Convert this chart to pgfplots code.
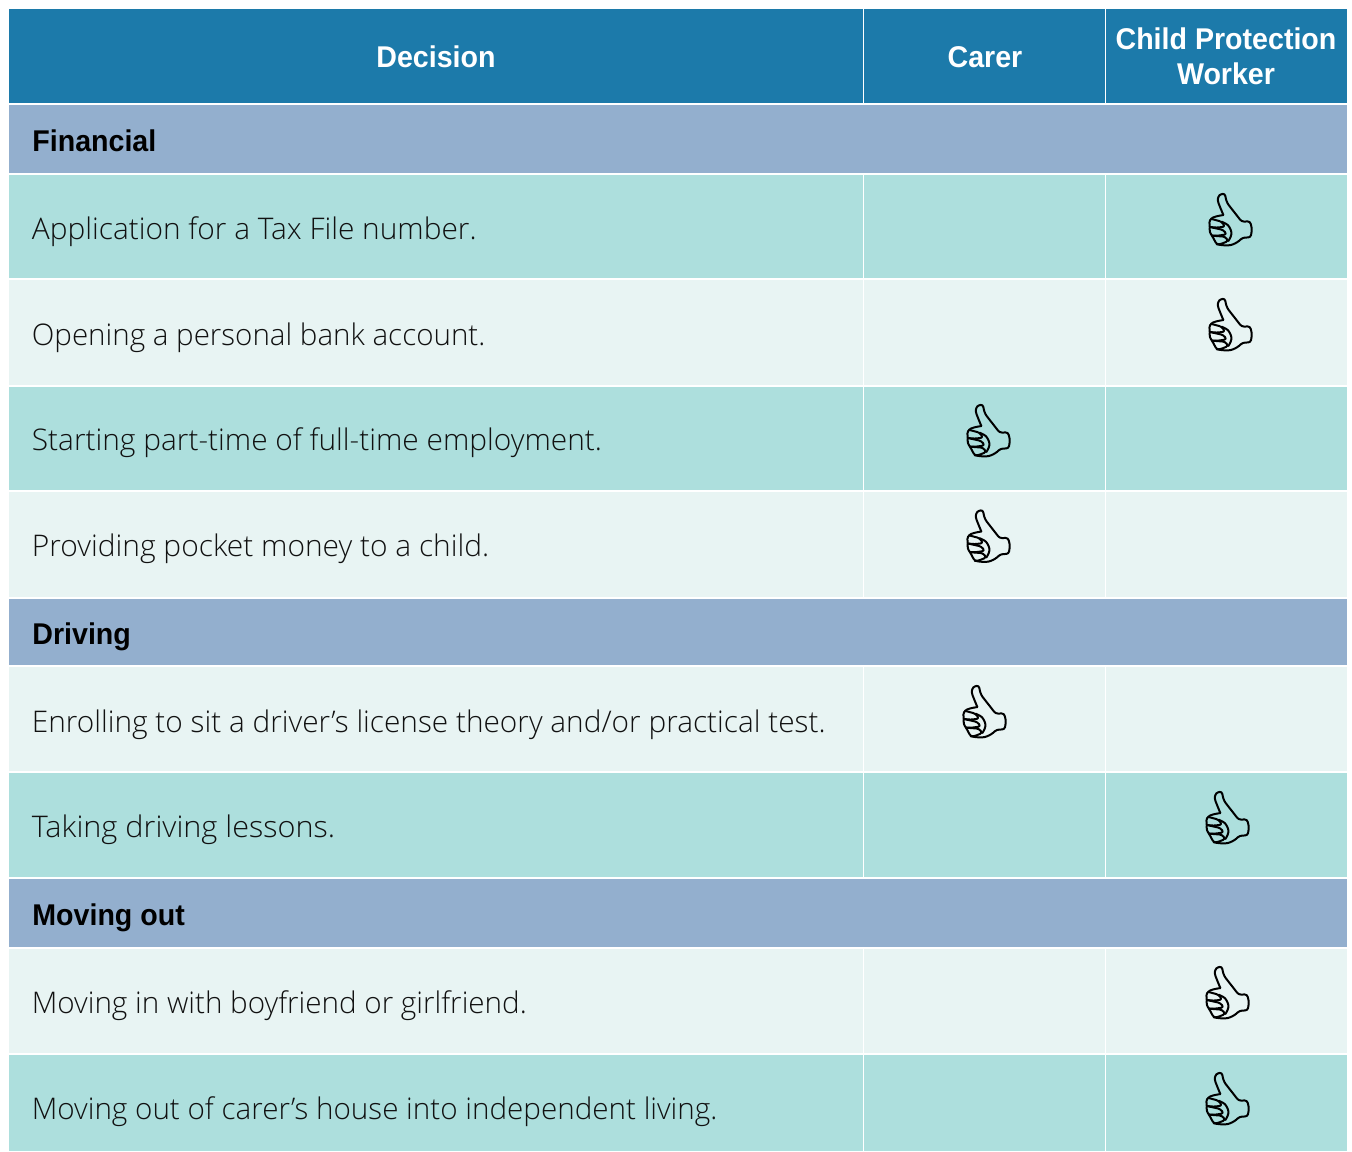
\documentclass[border=0pt]{standalone}
\usepackage{pgfplots}
\pgfplotsset{compat=1.18}
\usepackage{graphicx}
\usepackage{fontspec}
\setmainfont{Liberation Sans}
\newfontfamily\lightf{Open Sans Light}
\newfontfamily\boldf[FakeStretch=0.953]{Liberation Sans Bold}
\definecolor{hdr}{HTML}{1C7AAA}
\definecolor{sec}{HTML}{93AFCE}
\definecolor{dk}{HTML}{ADDFDD}
\definecolor{lt}{HTML}{E8F4F3}
\definecolor{ink}{HTML}{111111}
\pgfdeclareplotmark{thumb}{%
  \begin{scope}[x=0.1667pt,y=-0.1667pt,line width=1pt,draw=black,fill=none,line join=round,line cap=round,rounded corners=1.2pt]
  \draw (-20,-15)--(-30,-39)--(-37,-57)--(-36,-70)--(-28,-78)--(-15,-79)--(-13,-65)--(-8,-50)--(10,-27)--(35,5)--(60,4)--(66,27)--(62,52)--(38,53)--(22,67)--(2,76)--(-20,76)--(-40,73)--(-54,47)--(-62,35)--(-60,21)--(-63,7)--(-57,-5)--(-42,-11)--(-20,-15);
  \draw (-55,-3)--(-25,5)--(-15,20)--(-40,23)--(-60,21);
  \draw (-60,21)--(-20,30)--(-10,43)--(-35,47)--(-54,47);
  \draw (-54,47)--(-15,50)--(-5,63)--(-30,73)--(-40,73);
  \draw (-25,5)--(-5,15)--(5,35)--(3,50)--(-5,63);
  \end{scope}%
}
\begin{document}
\begin{tikzpicture}
\begin{axis}[
  scale only axis, width=676pt, height=575.5pt,
  xmin=0, xmax=1352, ymin=0, ymax=1151, y dir=reverse,
  hide axis, clip=true, axis on top=false,
  every axis plot/.append style={mark=none, draw=none},
]
\addplot[fill=white] coordinates {(0,0)(1352,0)(1352,1151)(0,1151)} -- cycle;
\addplot[fill=hdr] coordinates {(9,9)(1347,9)(1347,103)(9,103)} -- cycle;
\addplot[fill=sec] coordinates {(9,105)(1347,105)(1347,173)(9,173)} -- cycle;
\addplot[fill=dk] coordinates {(9,175)(1347,175)(1347,278)(9,278)} -- cycle;
\addplot[fill=lt] coordinates {(9,280)(1347,280)(1347,385)(9,385)} -- cycle;
\addplot[fill=dk] coordinates {(9,387)(1347,387)(1347,490)(9,490)} -- cycle;
\addplot[fill=lt] coordinates {(9,492)(1347,492)(1347,597)(9,597)} -- cycle;
\addplot[fill=sec] coordinates {(9,599)(1347,599)(1347,665)(9,665)} -- cycle;
\addplot[fill=lt] coordinates {(9,667)(1347,667)(1347,771)(9,771)} -- cycle;
\addplot[fill=dk] coordinates {(9,773)(1347,773)(1347,877)(9,877)} -- cycle;
\addplot[fill=sec] coordinates {(9,879)(1347,879)(1347,947)(9,947)} -- cycle;
\addplot[fill=lt] coordinates {(9,949)(1347,949)(1347,1053)(9,1053)} -- cycle;
\addplot[fill=dk] coordinates {(9,1055)(1347,1055)(1347,1151)(9,1151)} -- cycle;
% vertical separators
\pgfplotsinvokeforeach{863.4,1105.4}{
  \addplot[draw=white,line width=0.9pt] coordinates {(#1,9)(#1,105)};
  \addplot[draw=white,line width=0.9pt] coordinates {(#1,175)(#1,597)};
  \addplot[draw=white,line width=0.9pt] coordinates {(#1,667)(#1,877)};
  \addplot[draw=white,line width=0.9pt] coordinates {(#1,949)(#1,1151)};
}
% thumbs
\addplot[only marks, mark=thumb] coordinates {
 (1230,325)(1230,220)(988,431)(988,536.5)(984,712)(1227,818)(1227,993)(1227,1099)};
% text
\tikzset{hd/.style={anchor=base,text=white,font=\fontsize{15}{18}\boldf,inner sep=0pt},
 sc/.style={anchor=base west,text=black,font=\fontsize{15}{18}\boldf,inner sep=0pt},
 bd/.style={anchor=base west,text=ink,font=\fontsize{14.9}{18}\lightf,inner sep=0pt}}
\node[hd] at (axis cs:436,67) {Decision};
\node[hd] at (axis cs:985,67) {Carer};
\node[hd] at (axis cs:1226,49) {Child Protection};
\node[hd] at (axis cs:1226,84.5) {Worker};
\node[sc] at (axis cs:32,151) {Financial};
\node[sc] at (axis cs:32,644) {Driving};
\node[sc] at (axis cs:32,925) {Moving out};
\node[bd] at (axis cs:31.5,239) {\scalebox{1.002}[1]{Application for a Tax File number.}};
\node[bd] at (axis cs:31.5,345) {\scalebox{0.991}[1]{Opening a personal bank account.}};
\node[bd] at (axis cs:31.5,450) {\scalebox{1.002}[1]{Starting part-time of full-time employment.}};
\node[bd] at (axis cs:31.5,556) {\scalebox{1.004}[1]{Providing pocket money to a child.}};
\node[bd] at (axis cs:31.5,732) {Enrolling to sit a driver’s license theory and/or practical test.};
\node[bd] at (axis cs:31.5,837) {\scalebox{1.027}[1]{Taking driving lessons.}};
\node[bd] at (axis cs:31.5,1013) {\scalebox{0.994}[1]{Moving in with boyfriend or girlfriend.}};
\node[bd] at (axis cs:31.5,1119) {\scalebox{0.994}[1]{Moving out of carer’s house into independent living.}};
\end{axis}
\end{tikzpicture}
\end{document}
